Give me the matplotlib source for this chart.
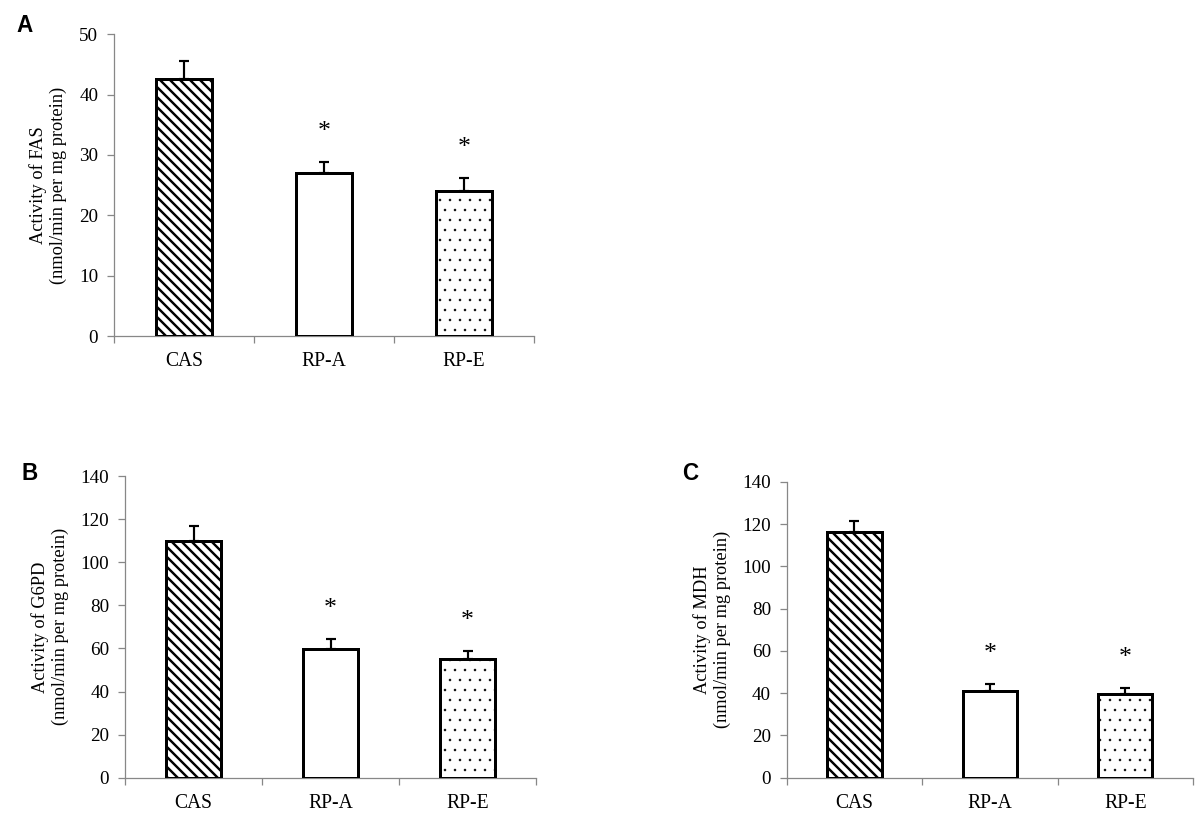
import matplotlib
matplotlib.use("Agg")
import matplotlib.pyplot as plt
import numpy as np

# data
groups = ["CAS", "RP-A", "RP-E"]

fas_mean = [42.6, 27.0, 24.0]
fas_err = [2.9, 1.8, 2.2]

g6pd_mean = [110.0, 59.7, 55.0]
g6pd_err = [7.0, 4.7, 3.6]

mdh_mean = [116.5, 41.2, 39.6]
mdh_err = [5.0, 3.3, 2.7]

significant = [False, True, True]

fas_ticks = [0, 10, 20, 30, 40, 50]
big_ticks = [0, 20, 40, 60, 80, 100, 120, 140]

DPI = 60
SERIF = ["Liberation Serif", "DejaVu Serif"]
plt.rcParams["font.family"] = SERIF
GRAY = "#878787"

hatches = ["\\\\", "", "."]
hatch_lw = [2.9, 1.0, 0.6]


def draw_panel(ax, means, errs, yticks, ylabel):
    x = np.arange(len(groups)) + 0.5
    bars = ax.bar(x, means, width=0.4, color="white", edgecolor="black",
                  linewidth=3.6, zorder=3)
    for b, h, lw in zip(bars, hatches, hatch_lw):
        b.set_hatch(h)
        if hasattr(b, "set_hatch_linewidth"):
            b.set_hatch_linewidth(lw)
    ax.errorbar(x, means, yerr=[np.zeros(len(errs)), errs], fmt="none",
                ecolor="black", elinewidth=2.6, capsize=5.5, capthick=2.6,
                zorder=2)
    for xi, m, e, s in zip(x, means, errs, significant):
        if s:
            ax.annotate("*", xy=(xi, m + e), xytext=(0, 29),
                        textcoords="offset points", ha="center",
                        va="baseline", fontsize=31, family=SERIF)

    ax.set_xlim(0, len(groups))
    ax.set_ylim(yticks[0], yticks[-1])
    ax.set_yticks(yticks)
    ax.set_xticks(x)
    ax.set_xticklabels(groups)
    ax.set_xticks(np.arange(len(groups) + 1), minor=True)
    ax.tick_params(axis="x", which="major", length=0, labelsize=23.5, pad=19)
    ax.tick_params(axis="x", which="minor", length=8, width=1.5, color=GRAY,
                   direction="out")
    ax.tick_params(axis="y", length=8, width=1.5, color=GRAY, labelsize=23,
                   pad=11)
    for side in ["top", "right"]:
        ax.spines[side].set_visible(False)
    for side in ["left", "bottom"]:
        ax.spines[side].set_color(GRAY)
        ax.spines[side].set_linewidth(1.5)
    ax.set_ylabel(ylabel, fontsize=22, linespacing=1.2, labelpad=14)


fig = plt.figure(figsize=(1200 / DPI, 826 / DPI), dpi=DPI)

ax_a = fig.add_axes([0.095, 0.593, 0.35, 0.3656])
ax_b = fig.add_axes([0.1042, 0.0585, 0.3425, 0.365])
ax_c = fig.add_axes([0.6556, 0.0585, 0.3386, 0.358])

draw_panel(ax_a, fas_mean, fas_err, fas_ticks,
           "Activity of FAS\n(nmol/min per mg protein)")
draw_panel(ax_b, g6pd_mean, g6pd_err, big_ticks,
           "Activity of G6PD\n(nmol/min per mg protein)")
draw_panel(ax_c, mdh_mean, mdh_err, big_ticks,
           "Activity of MDH\n(nmol/min per mg protein)")

# panel letters
letter_kw = dict(fontsize=27, fontweight="bold", ha="center", va="center",
                 family=["Liberation Sans", "DejaVu Sans"])
fig.text(25 / 1200, 1 - 26 / 826, "A", **letter_kw)
fig.text(30 / 1200, 1 - 473 / 826, "B", **letter_kw)
fig.text(690 / 1200, 1 - 474 / 826, "C", **letter_kw)

fig.savefig("out.png", dpi=DPI)
